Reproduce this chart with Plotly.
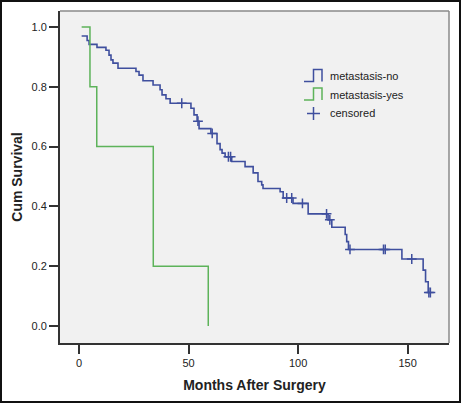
import plotly.graph_objects as go

# ---- data ----
no_times = [1.2, 3.7, 4.6, 8.2, 12.3, 13.7, 14.6, 15.5, 17.8, 26.0, 27.4, 29.2, 33.8, 37.0, 37.9,
            39.7, 41.6, 51.1, 52.5, 53.9, 54.8, 60.2, 63.0, 64.4, 65.3, 66.7, 69.7, 75.8, 79.5,
            81.7, 83.4, 84.0, 91.8, 93.2, 97.7, 104.6, 113.7, 115.4, 121.5, 122.2, 123.0, 147.4,
            157.1, 158.2, 159.4]
no_surv = [0.970, 0.955, 0.942, 0.932, 0.922, 0.906, 0.890, 0.879, 0.862, 0.851, 0.839, 0.820,
           0.806, 0.790, 0.773, 0.760, 0.745, 0.728, 0.706, 0.685, 0.660, 0.644, 0.610, 0.590,
           0.578, 0.566, 0.550, 0.533, 0.512, 0.483, 0.472, 0.460, 0.449, 0.428, 0.410, 0.375,
           0.355, 0.330, 0.306, 0.282, 0.256, 0.224, 0.187, 0.148, 0.112]
no_end = 160.5

no_cens_t = [46.9, 54.3, 60.8, 68.2, 69.2, 94.8, 97.1, 102.0, 113.0, 114.5, 123.7, 139.0, 139.8,
             151.9, 159.7, 160.4]
no_cens_s = [0.745, 0.685, 0.644, 0.566, 0.566, 0.428, 0.428, 0.410, 0.375, 0.355, 0.256, 0.256,
             0.256, 0.224, 0.112, 0.112]

yes_times = [1.2, 5.0, 8.1, 33.9, 59.0]
yes_surv = [1.0, 0.8, 0.6, 0.2, 0.0]

x_ticks = [0, 50, 100, 150]
y_ticks = [0.0, 0.2, 0.4, 0.6, 0.8, 1.0]
y_tick_text = ["0.0", "0.2", "0.4", "0.6", "0.8", "1.0"]

BLUE = "#3f4f9e"
GREEN = "#5db35a"
FONT = "Arial, Liberation Sans, sans-serif"

fig = go.Figure()

fig.add_trace(go.Scatter(x=no_times + [no_end], y=no_surv + [no_surv[-1]], mode="lines",
                         line=dict(color=BLUE, width=1.6, shape="hv"), showlegend=False,
                         name="metastasis-no"))
fig.add_trace(go.Scatter(x=yes_times, y=yes_surv, mode="lines",
                         line=dict(color=GREEN, width=1.5, shape="hv"), showlegend=False,
                         name="metastasis-yes"))
fig.add_trace(go.Scatter(x=no_cens_t, y=no_cens_s, mode="markers",
                         marker=dict(symbol="cross-thin", size=7, line=dict(color=BLUE, width=1.5)),
                         showlegend=False, name="censored"))

# ---- layout geometry ----
W, H = 461, 403
L, R, T, B = 60, 12, 11, 60
pw, ph = W - L - R, H - T - B


def px(xp):
    return (xp - L) / pw


def py(yp):
    return (H - B - yp) / ph


shapes = []
# top and right plot border (grey)
shapes.append(dict(type="line", xref="paper", yref="paper", x0=0, x1=1, y0=1, y1=1,
                   line=dict(color="#8a8a8a", width=1.5)))
shapes.append(dict(type="line", xref="paper", yref="paper", x0=1, x1=1, y0=0, y1=1,
                   line=dict(color="#8a8a8a", width=1.5)))
# outer image frame
shapes.append(dict(type="rect", xref="paper", yref="paper", x0=px(1), x1=px(W - 1),
                   y0=py(H - 1), y1=py(1), line=dict(color="#111111", width=2)))


def step_icon(x0, yb, yt, color):
    xs = [x0, x0 + 9.5, x0 + 9.5, x0 + 18, x0 + 18]
    ys = [yb, yb, yt, yt, yb]
    path = "M {} {}".format(px(xs[0]), py(ys[0]))
    for a, b in zip(xs[1:], ys[1:]):
        path += " L {} {}".format(px(a), py(b))
    shapes.append(dict(type="path", xref="paper", yref="paper", path=path,
                       line=dict(color=color, width=1.5)))


step_icon(304, 81.5, 69.5, BLUE)
step_icon(304, 100, 88, GREEN)
# censored legend cross
shapes.append(dict(type="line", xref="paper", yref="paper", x0=px(307), x1=px(320),
                   y0=py(113.5), y1=py(113.5), line=dict(color=BLUE, width=1.5)))
shapes.append(dict(type="line", xref="paper", yref="paper", x0=px(313.5), x1=px(313.5),
                   y0=py(107), y1=py(120), line=dict(color=BLUE, width=1.5)))

annotations = []
for label, yy in [("metastasis-no", 76), ("metastasis-yes", 94.5), ("censored", 112.5)]:
    annotations.append(dict(text=label, xref="paper", yref="paper", x=px(327.5), y=py(yy),
                            xanchor="left", yanchor="middle", showarrow=False,
                            font=dict(family=FONT, size=11, color="#222222")))

fig.update_layout(
    width=W, height=H,
    margin=dict(l=L, r=R, t=T, b=B, pad=0),
    paper_bgcolor="white",
    plot_bgcolor="#f1f1f1",
    font=dict(family=FONT, size=11, color="#222222"),
    shapes=shapes,
    annotations=annotations,
    showlegend=False,
)

fig.update_xaxes(
    range=[-8.68, 168.9], tickvals=x_ticks, ticks="outside", ticklen=9, tickwidth=1.5,
    tickcolor="#333333", showgrid=False, zeroline=False, showline=True, linecolor="#333333",
    linewidth=1.8, tickfont=dict(size=11, color="#222222"),
    title=dict(text="<b>Months After Surgery</b>", font=dict(size=14, color="#222222"),
               standoff=12),
)
fig.update_yaxes(
    range=[-0.0569, 1.0535], tickvals=y_ticks, ticktext=y_tick_text, ticks="outside",
    ticklen=9, tickwidth=1.5, tickcolor="#333333", showgrid=False, zeroline=False,
    showline=True, linecolor="#333333", linewidth=1.8, tickfont=dict(size=11, color="#222222"),
    title=dict(text="<b>Cum Survival</b>", font=dict(size=14, color="#222222"), standoff=6),
)

fig.write_html("out.html", config={"displayModeBar": False},
               post_script="document.body.style.margin='0';document.body.style.overflow='hidden';")
